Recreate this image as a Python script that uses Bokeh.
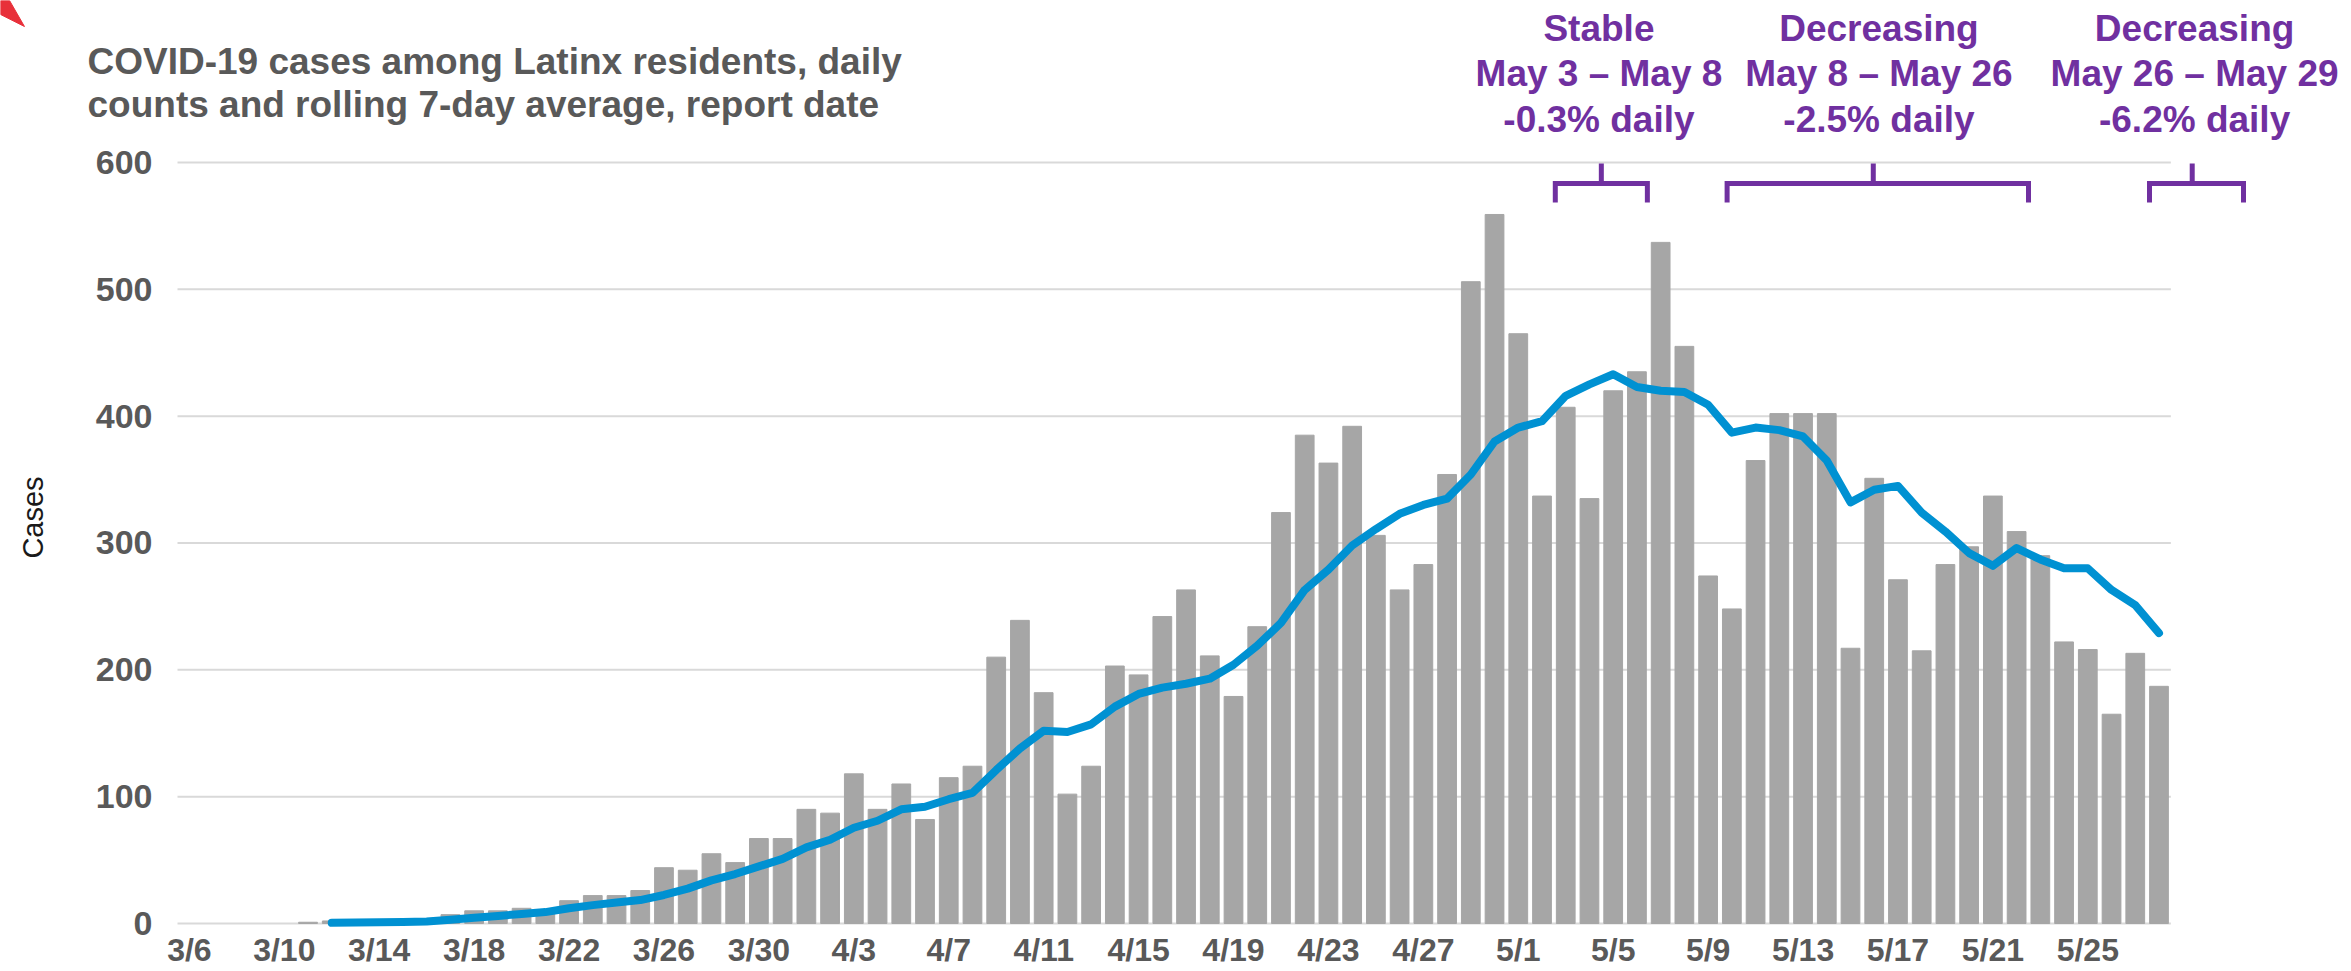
import math
import pandas as pd
from bokeh.plotting import figure
from bokeh.models import Range1d, FixedTicker, Label
from bokeh.embed import file_html
from bokeh.resources import INLINE

# ---------------- data ----------------
dates = [f"{d.month}/{d.day}" for d in pd.date_range("2020-03-06", "2020-05-28")]

daily_march = [0, 0, 0, 0, 0, 1, 2, 1, 1, 2, 3, 7, 10, 10, 12, 11, 18, 22, 22, 26,
               44, 42, 55, 48, 67, 67]
daily_april = [90, 87, 118, 90, 110, 82, 115, 124, 210, 239,
               182, 102, 124, 203, 196, 242, 263, 211, 179, 234,
               324, 385, 363, 392, 306, 263, 283, 354, 506, 559]
daily_may = [465, 337, 407, 335, 420, 435, 537, 455, 274, 248,
             365, 402, 402, 402, 217, 351, 271, 215, 283, 297,
             337, 309, 290, 222, 216, 165, 213, 187]
daily_cases = daily_march + daily_april + daily_may

avg_start = "3/12"
avg_march = [0.5, 0.7, 0.9, 1.1, 1.5, 3, 4.5, 6, 7.5, 9, 12, 14.5, 16.5, 18.5,
             22.5, 27.5, 34, 39, 45, 51]
avg_april = [60, 66, 75.5, 81, 90, 92, 98, 103, 121, 138,
             152, 151, 157, 171, 181, 186, 189, 193, 204, 219,
             237, 263, 279, 298, 311, 323, 330, 335, 354, 380]
avg_may = [391, 396, 416, 425, 433, 423, 420, 419, 409, 387,
           391, 389, 384, 365, 332, 342, 345, 324, 309, 292,
           282, 296, 287, 280, 280, 263, 251, 229]
rolling_avg = avg_march + avg_april + avg_may

y_ticks = [0, 100, 200, 300, 400, 500, 600]
y_label = "Cases"
title_lines = ["COVID-19 cases among Latinx residents, daily",
               "counts and rolling 7-day average, report date"]
trend_texts = [
    ["Stable", "May 3 \u2013 May 8", "-0.3% daily"],
    ["Decreasing", "May 8 \u2013 May 26", "-2.5% daily"],
    ["Decreasing", "May 26 \u2013 May 29", "-6.2% daily"],
]

# ---------------- styling / layout ----------------
FONT = "Liberation Sans"
GRAY_TXT = "#595959"
PURPLE = "#7030A0"
BAR = "#A6A6A6"
BLUE = "#0091D2"

n = len(dates)
idx = list(range(n))
bar_x = [i for i, v in zip(idx, daily_cases) if v > 0]
bar_top = [v for v in daily_cases if v > 0]
a0 = dates.index(avg_start)
avg_x = idx[a0:a0 + len(rolling_avg)]

Y0, Y1 = -3.15, 727.7
X0, X1 = -7.959, 91.07

p = figure(width=2350, height=970,
           x_range=Range1d(X0, X1), y_range=Range1d(Y0, Y1),
           output_backend="svg", toolbar_location=None,
           min_border_left=0, min_border_right=0, min_border_top=0,
           min_border_bottom=43)
p.outline_line_color = None
p.xgrid.visible = False
p.ygrid.visible = False
p.background_fill_color = "white"

# gridlines limited to the data extent
p.multi_line(xs=[[-0.5, n - 0.5] for _ in y_ticks], ys=[[t, t] for t in y_ticks],
             line_color="#D9D9D9", line_width=2)

p.vbar(x=bar_x, top=bar_top, width=0.79, color=BAR)
p.line(avg_x, rolling_avg, line_color=BLUE, line_width=8,
       line_join="round", line_cap="round")

# axes
p.yaxis.ticker = FixedTicker(ticks=y_ticks)
p.yaxis.axis_line_color = None
p.yaxis.major_tick_line_color = None
p.yaxis.minor_tick_line_color = None
p.yaxis.major_tick_out = 0
p.yaxis.major_tick_in = 0
p.yaxis.major_label_standoff = -152
p.yaxis.major_label_text_font = FONT
p.yaxis.major_label_text_font_style = "bold"
p.yaxis.major_label_text_font_size = "34px"
p.yaxis.major_label_text_color = GRAY_TXT

p.xaxis.ticker = FixedTicker(ticks=list(range(0, n, 4)))
p.xaxis.major_label_overrides = {i: dates[i] for i in range(0, n, 4)}
p.xaxis.axis_line_color = None
p.xaxis.major_tick_line_color = None
p.xaxis.minor_tick_line_color = None
p.xaxis.major_tick_out = 0
p.xaxis.major_tick_in = 0
p.xaxis.major_label_standoff = 4
p.xaxis.major_label_text_font = FONT
p.xaxis.major_label_text_font_style = "bold"
p.xaxis.major_label_text_font_size = "32px"
p.xaxis.major_label_text_color = GRAY_TXT

# y-axis title
p.add_layout(Label(x=-6.61, y=320.1, text=y_label, angle=math.pi / 2,
                   text_font=FONT, text_font_size="29px", text_color="#1a1a1a",
                   text_align="center", text_baseline="middle"))

# chart title (two lines)
for line_text, yb in zip(title_lines, [680.0, 645.4]):
    p.add_layout(Label(x=-4.293, y=yb, text=line_text, text_font=FONT,
                       text_font_style="bold", text_font_size="37px",
                       text_color=GRAY_TXT, text_baseline="alphabetic",
                       text_align="left"))

# trend annotations: text blocks and brackets
text_centers = [59.4, 71.2, 84.5]
text_baselines = [705.7, 670.2, 633.9]
for lines, cx in zip(trend_texts, text_centers):
    for t, yb in zip(lines, text_baselines):
        p.add_layout(Label(x=cx, y=yb, text=t, text_font=FONT,
                           text_font_style="bold", text_font_size="37px",
                           text_color=PURPLE, text_baseline="alphabetic",
                           text_align="center"))

bracket_spans = [(57.56, 61.44, 59.5), (64.8, 77.5, 70.96), (82.6, 86.56, 84.4)]
b_top, b_foot, b_stem = 583.5, 568.5, 599.2
bx, by = [], []
for l, r, c in bracket_spans:
    bx.append([l, l, r, r]); by.append([b_foot, b_top, b_top, b_foot])
    bx.append([c, c]); by.append([b_top, b_stem])
p.multi_line(xs=bx, ys=by, line_color=PURPLE, line_width=5,
             line_join="miter", line_cap="butt")

# small red logo corner at top-left
p.patch(x=[X0, X0 + 0.38, X0 + 1.01, X0], y=[Y1, Y1, Y1 - 20.5, Y1 - 11],
        color="#E8303A")

open("out.html", "w").write(file_html(p, INLINE))
